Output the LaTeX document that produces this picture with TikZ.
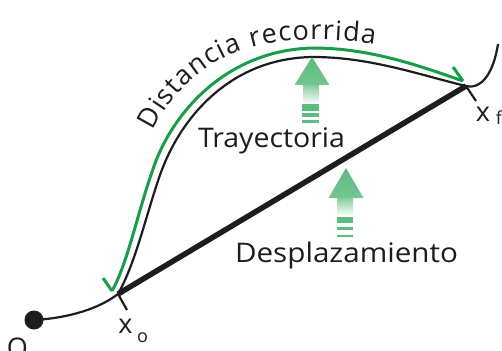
\documentclass[tikz,border=0pt]{standalone}
\usepackage{fontspec}
\setmainfont{Open Sans}
\usetikzlibrary{decorations.text,calc}
\definecolor{cgreen}{RGB}{24,158,72}
\definecolor{agreen}{RGB}{92,187,126}
\definecolor{ink}{RGB}{30,28,28}
\newcommand\fitw[2]{\setbox0=\hbox{#2}\pgfmathsetmacro\fitfac{#1/\wd0}\scalebox{\fitfac}[1]{\box0}}
\begin{document}
\begin{tikzpicture}[x=1pt,y=-1pt,line join=round,
  trajline/.style={line width=2.2pt,ink},
  distline/.style={line width=3pt,cgreen},
  displine/.style={line width=5.5pt,ink},
  tickline/.style={line width=2.2pt,ink},
  lbl/.style={font=\fontsize{27}{30}\selectfont,inner sep=0pt,text=ink},
  sublbl/.style={font=\fontsize{18}{20}\selectfont,inner sep=0pt,text=ink}]
\useasboundingbox (0,0) rectangle (502,350);
% key points
\coordinate (O) at (34,320);
\coordinate (xo) at (118,294);
\coordinate (xf) at (466,86);
\coordinate (tp) at (313,57);
\coordinate (mid) at (160,175);
\coordinate (endc) at (498,44);
\coordinate (gs) at (112,291);
\coordinate (gm) at (152,172);
\coordinate (gt) at (313,48);
\coordinate (ge) at (463,81);
% trajectory
\draw[trajline] (O) .. controls (70,318) and (100,308) .. (xo)
  .. controls (136,262) and (146,215) .. (mid)
  .. controls (180,118) and (230,58) .. (tp)
  .. controls (370,57) and (420,75) .. (xf)
  .. controls (483,90) and (494,70) .. (endc);
% displacement
\draw[displine] (xo) -- (xf);
% ticks
\draw[tickline] (xo) -- ++(9,16);
\draw[tickline] (xf) -- ++(10,15);
% distance (green)
\draw[distline] (gs) .. controls (128,262) and (137,215) .. (gm)
  .. controls (170,115) and (225,50) .. (gt)
  .. controls (370,48) and (420,66) .. (ge);
\draw[distline] (gs) -- ++(-9,-13);
\draw[distline] (ge) -- ++(-10,-14);
% text along path
\path[decorate,decoration={text along path,text align=fit to path,
  text={|\fontsize{27}{30}\selectfont\color{ink}|Distancia recorrida}}]
  (153,131) .. controls (174,88) and (218,42) .. (300,40)
  .. controls (330,39) and (355,41) .. (375,44);
% dot
\fill[ink] (O) circle (9.5);
% labels
\node[lbl,anchor=base] (Olbl) at (17.5,357) {O};
\node[lbl,anchor=base] (xolbl) at (125.5,333) {x};
\node[sublbl,anchor=base] (xosub) at (142.5,342) {o};
\node[lbl,anchor=base] (xflbl) at (483,121) {x};
\node[sublbl,anchor=base] (xfsub) at (499,124) {f};
\node[lbl,anchor=base] (tray) at (271.5,147) {\fitw{147}{Trayectoria}};
\node[lbl,anchor=base] (desp) at (346.5,262) {\fitw{223}{Desplazamiento}};
% gradient arrow 1
\shade[top color=agreen!75!white,bottom color=white] (303,85) rectangle (319,104);
\shade[top color=agreen,bottom color=agreen!85!white] (312,57) -- (329.5,85) -- (294.5,85) -- cycle;
\fill[agreen] (302,104.3) rectangle (319,110.7);
\fill[agreen] (302,112.7) rectangle (319,116.7);
\fill[agreen] (302,120) rectangle (319,123.3);
% gradient arrow 2
\shade[top color=agreen!75!white,bottom color=white] (337,198) rectangle (353,216);
\shade[top color=agreen,bottom color=agreen!85!white] (346,168) -- (363.5,198) -- (328.5,198) -- cycle;
\fill[agreen] (337,217) rectangle (353,223);
\fill[agreen] (337,227) rectangle (353,230);
\fill[agreen] (337,234.5) rectangle (353,237);
\end{tikzpicture}
\end{document}
